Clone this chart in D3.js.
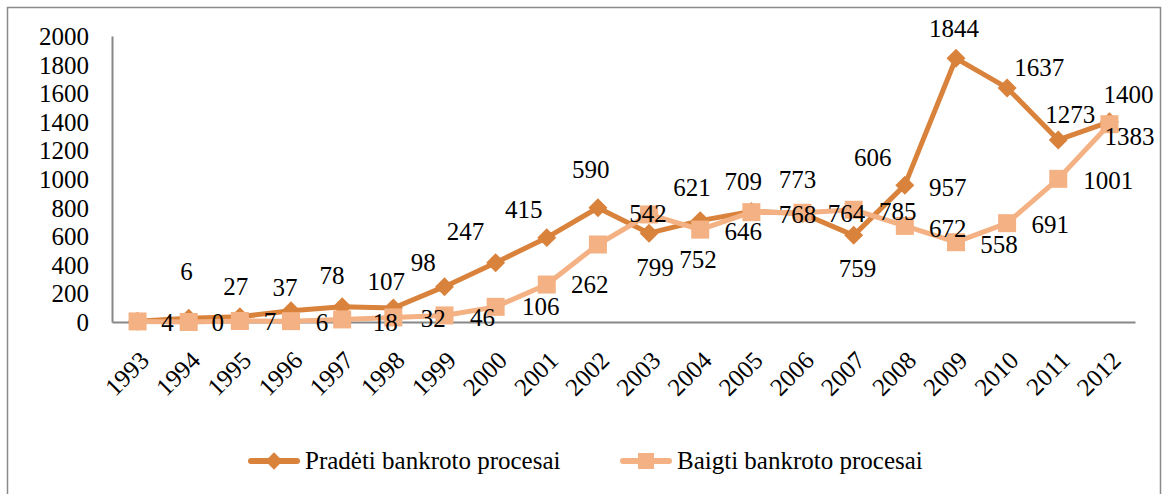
<!DOCTYPE html>
<html>
<head>
<meta charset="utf-8">
<script src="https://cdn.jsdelivr.net/npm/d3@7"></script>
<style>
  body { margin: 0; background: #fff; }
  text { font-family: "Liberation Serif", "Times New Roman", serif; fill: #000; }
</style>
</head>
<body>
<script>
'use strict';

// data
let years = ['1993', '1994', '1995', '1996', '1997', '1998', '1999', '2000', '2001', '2002',
             '2003', '2004', '2005', '2006', '2007', '2008', '2009', '2010', '2011', '2012'];
let started = [6, 27, 37, 78, 107, 98, 247, 415, 590, 799, 621, 709, 773, 759, 606, 957, 1844, 1637, 1273, 1400];
let finished = [4, 0, 7, 6, 18, 32, 46, 106, 262, 542, 752, 646, 768, 764, 785, 672, 558, 691, 1001, 1383];
let yTicks = [0, 200, 400, 600, 800, 1000, 1200, 1400, 1600, 1800, 2000];
let seriesNames = ['Pradėti bankroto procesai', 'Baigti bankroto procesai'];

// where excel left the value labels, relative to their point (px)
let startedLabelShift = [[49, -50], [47, -32], [45, -29], [41, -35], [44, -25], [30, -45], [21, -55], [28, -53],
    [44, -68], [57, 60], [43, -46], [43, -39], [46, -32], [55, 55], [19, -78], [43, 2], [-2, -30], [32, -20],
    [12, -25], [19, -27]];
let finishedLabelShift = [[30, 1], [29, 0], [30, 1], [31, 1], [43, 3], [40, 1], [38, 2], [45, 0], [43, 0],
    [50, -31], [49, 45], [43, 2], [46, 2], [44, 1], [44, 2], [43, 3], [43, 2], [43, 1], [50, 2], [20, 12]];

let darkColor = '#D9823C';
let lightColor = '#F4B183';
let fontSize = 25;

let svgContainer = d3.select('body')
    .append('svg')
    .attr('width', 1164)
    .attr('height', 494);

makeGraph();

function makeGraph() {
    svgContainer.append('rect')
        .attr('x', 7.5)
        .attr('y', 7.5)
        .attr('width', 1153)
        .attr('height', 510)
        .attr('fill', 'none')
        .attr('stroke', '#8a8a8a')
        .attr('stroke-width', 1.5);

    let map = drawAxes();

    plotSeries(map, started, darkColor, 'diamond', startedLabelShift);
    plotSeries(map, finished, lightColor, 'square', finishedLabelShift);

    makeLegend();
}

function drawAxes() {
    let xScale = d3.scaleBand()
        .domain(years)
        .range([112, 1135]);

    let yScale = d3.scaleLinear()
        .domain([0, 2000])
        .range([322, 36]);

    let yAxis = d3.axisLeft(yScale)
        .tickValues(yTicks)
        .tickSize(0)
        .tickPadding(23)
        .tickFormat(d3.format('d'));

    let gy = svgContainer.append('g')
        .attr('transform', 'translate(112, 0)')
        .call(yAxis);
    gy.select('.domain').attr('stroke', '#878787').attr('stroke-width', 2);
    gy.selectAll('text')
        .style('font-size', fontSize + 'px')
        .style('font-family', '"Liberation Serif", serif')
        .attr('dy', '0.34em');

    let xAxis = d3.axisBottom(xScale)
        .tickSize(0)
        .tickSizeOuter(0);

    let gx = svgContainer.append('g')
        .attr('transform', 'translate(0, 322)')
        .call(xAxis);
    gx.select('.domain').attr('stroke', '#878787').attr('stroke-width', 2);
    gx.selectAll('text')
        .style('font-size', fontSize + 'px')
        .style('font-family', '"Liberation Serif", serif')
        .attr('text-anchor', 'end')
        .attr('y', 0)
        .attr('dy', 0)
        .attr('transform', 'translate(13, 40) rotate(-45)');

    return {
        x: (i) => xScale(years[i]) + xScale.bandwidth() / 2,
        y: yScale
    };
}

function plotSeries(map, values, color, shape, labelShift) {
    let line = d3.line()
        .x((d, i) => map.x(i))
        .y((d) => map.y(d));

    svgContainer.append('path')
        .datum(values)
        .attr('d', line)
        .attr('fill', 'none')
        .attr('stroke', color)
        .attr('stroke-width', 5)
        .attr('stroke-linejoin', 'round');

    let sym = shape === 'diamond'
        ? d3.symbol().type(d3.symbolSquare).size(180)
        : d3.symbol().type(d3.symbolSquare).size(324);

    svgContainer.selectAll(null)
        .data(values)
        .enter()
        .append('path')
        .attr('d', sym)
        .attr('transform', (d, i) => 'translate(' + map.x(i) + ',' + map.y(d) + ')' + (shape === 'diamond' ? ' rotate(45)' : ''))
        .attr('fill', color);

    svgContainer.selectAll(null)
        .data(values)
        .enter()
        .append('text')
        .attr('x', (d, i) => map.x(i) + labelShift[i][0])
        .attr('y', (d, i) => map.y(d) + labelShift[i][1])
        .attr('dy', '0.34em')
        .attr('text-anchor', 'middle')
        .style('font-size', fontSize + 'px')
        .text((d) => d);
}

function makeLegend() {
    let items = [
        {name: seriesNames[0], color: darkColor, shape: 'diamond', x: 248},
        {name: seriesNames[1], color: lightColor, shape: 'square', x: 620}
    ];

    items.forEach((it) => {
        let g = svgContainer.append('g').attr('transform', 'translate(' + it.x + ', 461)');
        g.append('line')
            .attr('x1', 3)
            .attr('x2', 49)
            .attr('stroke', it.color)
            .attr('stroke-width', 6)
            .attr('stroke-linecap', 'round');
        g.append('path')
            .attr('d', d3.symbol().type(d3.symbolSquare).size(it.shape === 'diamond' ? 150 : 256))
            .attr('transform', 'translate(26, 0)' + (it.shape === 'diamond' ? ' rotate(45)' : ''))
            .attr('fill', it.color);
        g.append('text')
            .attr('x', 57)
            .attr('y', 8)
            .style('font-size', fontSize + 'px')
            .text(it.name);
    });
}
</script>
</body>
</html>
